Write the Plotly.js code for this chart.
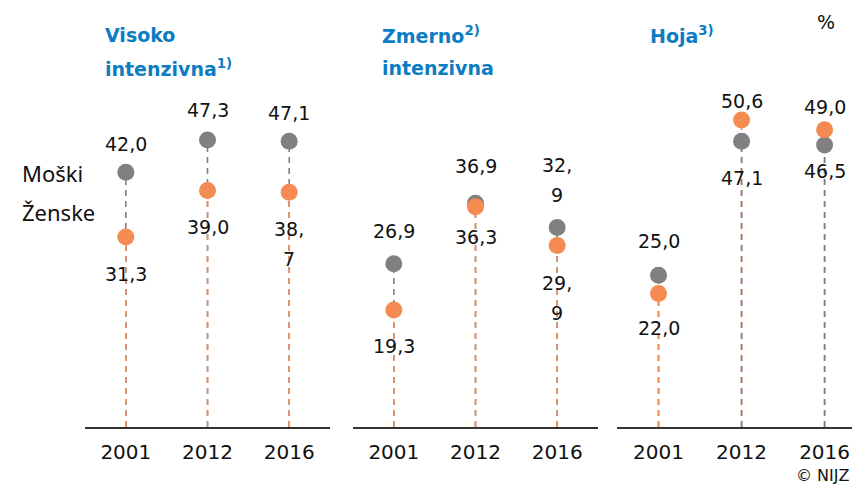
<!DOCTYPE html>
<html>
<head>
<meta charset="utf-8">
<script src="https://cdn.plot.ly/plotly-3.0.1.min.js"></script>
<style>html,body{margin:0;padding:0;background:#fff;}#chart{width:852px;height:486px;}</style>
</head>
<body>
<div id="chart"></div>
<script>
// ---- data ----
const years = ['2001', '2012', '2016'];
const moskiVisoko  = [42.0, 47.3, 47.1];
const zenskeVisoko = [31.3, 39.0, 38.7];
const moskiZmerno  = [26.9, 36.9, 32.9];
const zenskeZmerno = [19.3, 36.3, 29.9];
const moskiHoja    = [25.0, 47.1, 46.5];
const zenskeHoja   = [22.0, 50.6, 49.0];
const panelTitles = [['Visoko', 'intenzivna<sup>1)</sup>'], ['Zmerno<sup>2)</sup>', 'intenzivna'], ['Hoja<sup>3)</sup>']];
const seriesNames = ['Moški', 'Ženske'];

// ---- styling / placement ----
const GREY = '#808080', ORANGE = '#F58A53', BLUE = '#0C7CC3';
const LBLFONT = 'DejaVu Sans, Verdana, sans-serif';
const TXTFONT = 'Noto Sans, Open Sans, sans-serif';
const panels = [
  {m: moskiVisoko, z: zenskeVisoko, xa: 'x',  ya: 'y',
   // [yshift, anchor] for each label; wrap flags split label after comma
   mPos: [[15,'bottom'],[17,'bottom'],[15,'bottom']], zPos: [[-24,'top'],[-24,'top'],[-24,'top']],
   mWrap: [0,0,0], zWrap: [0,0,1]},
  {m: moskiZmerno, z: zenskeZmerno, xa: 'x2', ya: 'y',
   mPos: [[20,'bottom'],[24,'bottom'],[19,'bottom']], zPos: [[-23,'top'],[-17,'top'],[-24,'top']],
   mWrap: [0,0,1], zWrap: [0,0,1]},
  {m: moskiHoja, z: zenskeHoja, xa: 'x3', ya: 'y',
   mPos: [[21,'bottom'],[-24,'top'],[-13,'top']], zPos: [[-21,'top'],[6,'bottom'],[10,'bottom']],
   mWrap: [0,0,0], zWrap: [0,0,0]}
];
const LINE_GAP = 30;

function fmtLines(v, wrap) {
  const s = v.toFixed(1).replace('.', ',');
  return wrap ? s.replace(',', ',\n').split('\n') : [s];
}

const traces = [];
const annotations = [];
const dash = '6px,5px';

panels.forEach((p, pi) => {
  // stems: higher value first, lower drawn on top
  years.forEach((yr, i) => {
    const stems = [{v: p.m[i], c: GREY}, {v: p.z[i], c: ORANGE}].sort((a, b) => b.v - a.v);
    stems.forEach(s => traces.push({
      type: 'scatter', mode: 'lines', x: [yr, yr], y: [0, s.v], xaxis: p.xa, yaxis: p.ya,
      line: {color: s.c, width: 1.6, dash: dash}, hoverinfo: 'skip', showlegend: false, cliponaxis: false
    }));
  });
  traces.push({type: 'scatter', mode: 'markers', x: years, y: p.m, xaxis: p.xa, yaxis: p.ya, name: seriesNames[0],
    marker: {color: GREY, size: 17}, showlegend: false, cliponaxis: false});
  traces.push({type: 'scatter', mode: 'markers', x: years, y: p.z, xaxis: p.xa, yaxis: p.ya, name: seriesNames[1],
    marker: {color: ORANGE, size: 17}, showlegend: false, cliponaxis: false});
  years.forEach((yr, i) => {
    [[p.m, p.mPos, p.mWrap], [p.z, p.zPos, p.zWrap]].forEach(([vals, pos, wr]) => {
      const lines = fmtLines(vals[i], wr[i]);
      const above = pos[i][1] === 'bottom';
      const n = lines.length;
      lines.forEach((t, k) => {
        const off = above ? (n - 1 - k) * LINE_GAP : -k * LINE_GAP;
        annotations.push({
          // category axes: annotation x is the category index
          xref: p.xa, yref: p.ya, x: i, y: vals[i], text: t,
          showarrow: false, yanchor: pos[i][1], yshift: pos[i][0] + off, xanchor: 'center',
          font: {family: LBLFONT, size: 19, color: '#111'}
        });
      });
    });
  });
});

// pixel -> paper helpers (plot area: x 0..852, y 63..427)
const MT = 63, MB = 59, H = 486;
const px = v => v / 852, py = v => (H - MB - v) / (H - MT - MB);
const titleX = [105, 382, 650];
panelTitles.forEach((lines, i) => {
  lines.forEach((t, j) => {
    annotations.push({xref: 'paper', yref: 'paper', x: px(titleX[i] - 2), y: py(35 + j * 33), text: '<b>' + t + '</b>',
      showarrow: false, xanchor: 'left', yanchor: 'middle', font: {family: LBLFONT, size: 19, color: BLUE}});
  });
});
// legend words
annotations.push({xref: 'paper', yref: 'paper', x: px(20), y: py(173), text: seriesNames[0], showarrow: false,
  xanchor: 'left', yanchor: 'middle', font: {family: TXTFONT, size: 22, color: '#111'}});
annotations.push({xref: 'paper', yref: 'paper', x: px(20), y: py(212), text: seriesNames[1], showarrow: false,
  xanchor: 'left', yanchor: 'middle', font: {family: TXTFONT, size: 22, color: '#111'}});
annotations.push({xref: 'paper', yref: 'paper', x: px(826), y: py(22), text: '%', showarrow: false,
  xanchor: 'center', yanchor: 'middle', font: {family: LBLFONT, size: 19, color: '#111'}});
annotations.push({xref: 'paper', yref: 'paper', x: px(851), y: py(475), text: '© NIJZ', showarrow: false,
  xanchor: 'right', yanchor: 'middle', font: {family: LBLFONT, size: 16, color: '#111'}});

function xax(domain, range) {
  return {domain: domain, type: 'category', range: range, anchor: 'y', showgrid: false, zeroline: false,
    showline: true, linecolor: '#333', linewidth: 2, ticks: '', ticklabelstandoff: 6,
    tickfont: {family: LBLFONT, size: 20, color: '#111'}, fixedrange: true};
}

const layout = {
  width: 852, height: 486,
  margin: {l: 0, r: 0, t: MT, b: MB},
  paper_bgcolor: '#fff', plot_bgcolor: 'rgba(0,0,0,0)',
  showlegend: false,
  xaxis:  xax([85/852, 330/852], [-0.5, 2.5]),
  xaxis2: xax([353/852, 598/852], [-0.5, 2.5]),
  xaxis3: xax([617/852, 1], [-0.5, 2.33]),
  yaxis: {domain: [0, 1], range: [0, 60], visible: false, fixedrange: true},
  annotations: annotations
};

Plotly.newPlot('chart', traces, layout, {displayModeBar: false, staticPlot: true});
</script>
</body>
</html>
